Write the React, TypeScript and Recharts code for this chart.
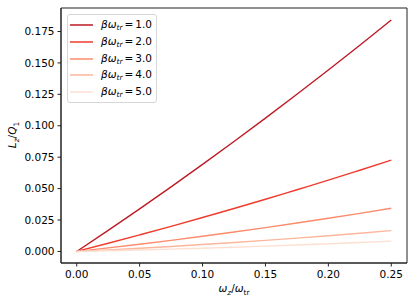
import React from 'react';
import { LineChart, Line, XAxis, YAxis, Legend, ReferenceArea } from 'recharts';

const xs = [0, 0.025, 0.05, 0.075, 0.1, 0.125, 0.15, 0.175, 0.2, 0.225, 0.25];
const s1 = [0, 0.0168, 0.0339, 0.0514, 0.0693, 0.0875, 0.1061, 0.1251, 0.1444, 0.1641, 0.1842];
const s2 = [0, 0.0065, 0.0132, 0.02, 0.027, 0.0342, 0.0415, 0.0491, 0.0567, 0.0646, 0.0726];
const s3 = [0, 0.0028, 0.00575, 0.00883, 0.01206, 0.01543, 0.01894, 0.02259, 0.02638, 0.03031, 0.03439];
const s4 = [0, 0.00122, 0.00254, 0.00396, 0.00547, 0.00708, 0.00879, 0.0106, 0.0125, 0.0145, 0.0166];
const s5 = [0, 0.00055, 0.00116, 0.00183, 0.00256, 0.00335, 0.0042, 0.00511, 0.00608, 0.00712, 0.00821];

const betas = ['1.0', '2.0', '3.0', '4.0', '5.0'];
const colors = ['#bd1a24', '#ef3b2c', '#fc8b6c', '#fcb69b', '#fee0d2'];
const xTicks = [0, 0.05, 0.1, 0.15, 0.2, 0.25];
const yTicks = [0, 0.025, 0.05, 0.075, 0.1, 0.125, 0.15, 0.175];

const xDomain = [-0.0125, 0.2625];
const yDomain = [-0.0092, 0.1937];

const series = [s1, s2, s3, s4, s5];
const data = xs.map((x, i) => {
  const row: any = { x };
  series.forEach((s, k) => (row['s' + k] = s[i]));
  return row;
});

const font = 'DejaVu Sans, sans-serif';

function LegendBox() {
  return (
    <div
      style={{
        border: '1px solid #d6d6d6',
        borderRadius: 3,
        background: 'rgba(255,255,255,0.8)',
        padding: '2px 4px 2px 2px',
        fontFamily: font,
        fontSize: 10.5,
        color: '#000',
      }}
    >
      {betas.map((b, i) => (
        <div key={b} style={{ display: 'flex', alignItems: 'center', height: 16.7 }}>
          <svg width={23} height={4} style={{ marginRight: 8 }}>
            <line x1={0} y1={2} x2={23} y2={2} stroke={colors[i]} strokeWidth={1.5} />
          </svg>
          <span style={{ whiteSpace: 'nowrap' }}>
            <i>βω</i>
            <sub style={{ fontSize: 7.5, fontStyle: 'italic', verticalAlign: -2 }}>tr</sub>
            <span style={{ margin: '0 2px 0 2px' }}>=</span>
            <span>{b}</span>
          </span>
        </div>
      ))}
    </div>
  );
}

function XLabel() {
  return (
    <text x={234} y={292} textAnchor="middle" fontFamily={font} fontSize={10.5} fill="#000">
      <tspan fontStyle="italic">ω</tspan>
      <tspan fontStyle="italic" fontSize={7.5} dy={2.5}>z</tspan>
      <tspan dy={-2.5}>/</tspan>
      <tspan fontStyle="italic">ω</tspan>
      <tspan fontSize={7.5} dy={2.5}>tr</tspan>
    </text>
  );
}

function YLabel() {
  return (
    <text
      x={0}
      y={0}
      transform="translate(16,135) rotate(-90)"
      textAnchor="middle"
      fontFamily={font}
      fontSize={10.5}
      fill="#000"
    >
      <tspan fontStyle="italic">L</tspan>
      <tspan fontStyle="italic" fontSize={7.5} dy={2.5}>z</tspan>
      <tspan dy={-2.5}>/</tspan>
      <tspan fontStyle="italic">Q</tspan>
      <tspan fontSize={7.5} dy={2.5}>1</tspan>
    </text>
  );
}

export default function App() {
  const tickStyle = { fontFamily: font, fontSize: 10.5, fill: '#000' };
  return (
    <div style={{ position: 'absolute', left: 0, top: 0, background: '#fff' }}>
      <LineChart width={415} height={305} data={data} margin={{ top: 8, right: 8, left: 0, bottom: 0 }}>
        <XAxis
          dataKey="x"
          type="number"
          domain={xDomain}
          ticks={xTicks}
          tickFormatter={(v: number) => v.toFixed(2)}
          tick={tickStyle}
          tickSize={3.5}
          tickMargin={4}
          stroke="#222"
          height={42}
          allowDataOverflow
          label={<XLabel />}
        />
        <YAxis
          type="number"
          domain={yDomain}
          ticks={yTicks}
          tickFormatter={(v: number) => v.toFixed(3)}
          tick={tickStyle}
          tickSize={3.5}
          tickMargin={3}
          stroke="#222"
          width={61}
          allowDataOverflow
          label={<YLabel />}
        />
        <ReferenceArea
          x1={xDomain[0]}
          x2={xDomain[1]}
          y1={yDomain[0]}
          y2={yDomain[1]}
          fill="none"
          stroke="#222"
          strokeWidth={1}
          ifOverflow="visible"
        />
        {series.map((_, k) => (
          <Line
            key={k}
            dataKey={'s' + k}
            name={'βω_tr = ' + betas[k]}
            stroke={colors[k]}
            strokeWidth={1.4}
            dot={false}
            isAnimationActive={false}
            type="monotone"
          />
        ))}
        <Legend
          layout="horizontal"
          verticalAlign="middle"
          align="center"
          content={<LegendBox />}
          wrapperStyle={{ left: 67, top: 14, width: 'auto' }}
        />
      </LineChart>
    </div>
  );
}
